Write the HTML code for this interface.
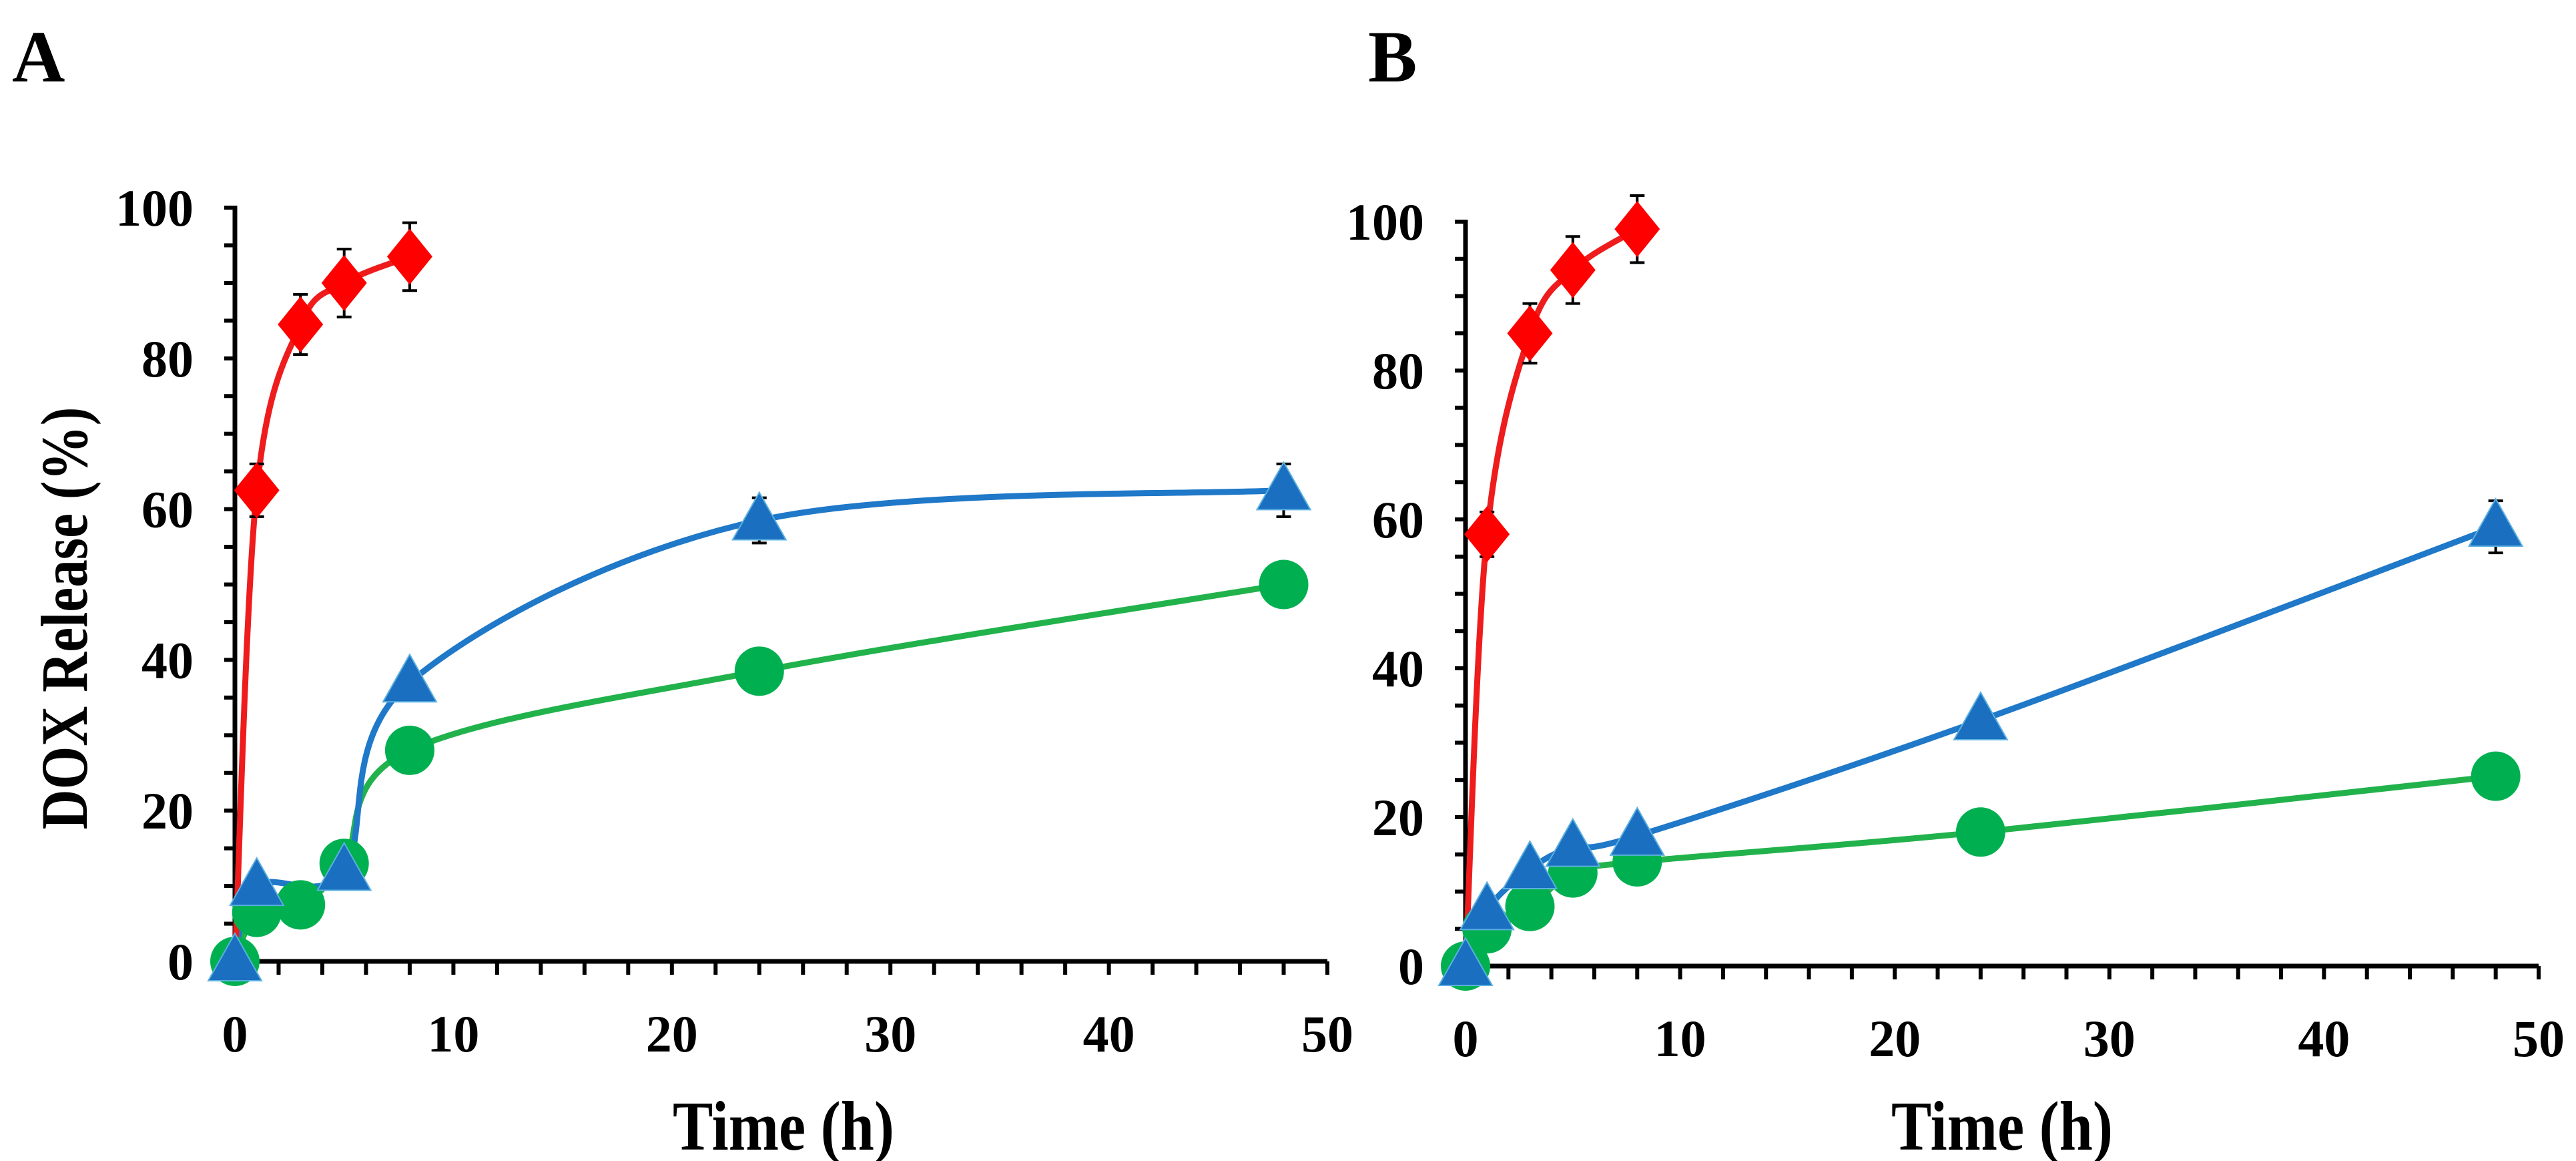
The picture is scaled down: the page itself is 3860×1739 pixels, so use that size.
<!DOCTYPE html>
<html><head><meta charset="utf-8"><style>
html,body{margin:0;padding:0;background:#fff;}
svg{display:block;}
text{font-family:"Liberation Serif",serif;font-weight:bold;fill:#000;}
</style></head><body>
<svg id="chart" width="3860" height="1739" viewBox="0 0 3860 1739" xmlns="http://www.w3.org/2000/svg">
<text x="18" y="122" font-size="110">A</text>
<text x="2050" y="122" font-size="110">B</text>
<text transform="translate(130,926) rotate(-90)" text-anchor="middle" font-size="100" textLength="633" lengthAdjust="spacingAndGlyphs">DOX Release (%)</text>
<g id="panelA"></g>
<g id="panelB"></g>
</svg>
<script>
const xTicks = [0,10,20,30,40,50];
const yTicks = [0,20,40,60,80,100];
const aRedX = [0,1,3,5,8];
const aRedY = [0,62.5,84.5,90,93.5];
const aRedErr = [0,3.5,4,4.5,4.5];
const aBlueX = [0,1,5,8,24,48];
const aBlueY = [0,10,12,37,58.5,62.5];
const aBlueErr = [0,0,0,0,3,3.5];
const aGreenX = [0,1,3,5,8,24,48];
const aGreenY = [0,6.5,7.5,13,28,38.5,50];
const bRedX = [0,1,3,5,8];
const bRedY = [0,58,85,93.5,99];
const bRedErr = [0,3,4,4.5,4.5];
const bBlueX = [0,1,3,5,8,24,48];
const bBlueY = [0,7.5,13,16,17.5,33,59];
const bBlueErr = [0,0,0,0,0,0,3.5];
const bGreenX = [0,1,3,5,8,24,48];
const bGreenY = [0,5,8,12.5,14,18,25.5];

const NS = "http://www.w3.org/2000/svg";
function mk(tag, attrs, parent){
  const e = document.createElementNS(NS, tag);
  for (const k in attrs) e.setAttribute(k, attrs[k]);
  parent.appendChild(e);
  return e;
}
function smoothPath(pts){
  let d = "M" + pts[0][0] + "," + pts[0][1];
  for (let i = 0; i < pts.length - 1; i++){
    const p0 = pts[Math.max(i-1,0)], p1 = pts[i], p2 = pts[i+1], p3 = pts[Math.min(i+2,pts.length-1)];
    const c1x = p1[0] + (p2[0]-p0[0])/6, c1y = p1[1] + (p2[1]-p0[1])/6;
    const c2x = p2[0] - (p3[0]-p1[0])/6, c2y = p2[1] - (p3[1]-p1[1])/6;
    d += " C" + c1x + "," + c1y + " " + c2x + "," + c2y + " " + p2[0] + "," + p2[1];
  }
  return d;
}
function drawPanel(g, ax, series){
  const sx = v => ax.x0 + (v/50)*(ax.x50 - ax.x0);
  const sy = v => ax.y0 - (v/100)*(ax.y0 - ax.y100);
  for (let v = 0; v <= 100; v += 5){
    const t = mk("line", {x1: ax.x0-16, x2: ax.x0, y1: sy(v), y2: sy(v), stroke:"#000", "stroke-width":6}, g);
    
    
  }
  for (let v = 2; v <= 50; v += 2){
    const t = mk("line", {x1: sx(v), x2: sx(v), y1: ax.y0, y2: ax.y0+20, stroke:"#000", "stroke-width":6}, g);
    
    
  }
  const ya = mk("line", {x1: ax.x0, x2: ax.x0, y1: ax.y100-3, y2: ax.y0+3, stroke:"#000", "stroke-width":7}, g);
  
  
  const xa = mk("line", {x1: ax.x0-3, x2: ax.x50, y1: ax.y0, y2: ax.y0, stroke:"#000", "stroke-width":7}, g);
  
  
  yTicks.forEach(v => {
    const t = mk("text", {x: ax.x0-62, y: sy(v)+27, "text-anchor":"end", "font-size":78}, g);
    t.textContent = v;
    
    
  });
  xTicks.forEach(v => {
    const t = mk("text", {x: sx(v), y: ax.y0+135, "text-anchor":"middle", "font-size":78}, g);
    t.textContent = v;
    
    
  });
  const xt = mk("text", {x: ax.titleX, y: 1722, "text-anchor":"middle", "font-size":105, textLength:332, lengthAdjust:"spacingAndGlyphs"}, g);
  xt.textContent = "Time (h)";
  
  

  series.forEach(s => {
    const pts = s.x.map((v,i) => [sx(v), sy(s.y[i])]);
    const p = mk("path", {d: smoothPath(pts), fill:"none", stroke:s.line, "stroke-width":9, "stroke-linejoin":"round"}, g);
    
    
  });
  series.forEach(s => {
    s.x.forEach((v,i) => {
      if (s.skipFirst && i === 0) return;
      const cx = sx(v), cy = sy(s.y[i]);
      if (s.err && s.err[i] > 0){
        const top = sy(s.y[i] + s.err[i]), bot = sy(s.y[i] - s.err[i]);
        const eb = mk("path", {d:`M${cx},${top}V${bot}M${cx-11},${top}H${cx+11}M${cx-11},${bot}H${cx+11}`, stroke:"#000", "stroke-width":4, fill:"none"}, g);
        
        
      }
      let m;
      if (s.shape === "circle"){
        m = mk("circle", {cx: cx, cy: cy, r: 37, fill: s.fill}, g);
      } else if (s.shape === "tri"){
        m = mk("path", {d:`M${cx},${cy-42} L${cx+40},${cy+29} L${cx-40},${cy+29} Z`, fill: s.fill, stroke:"#5bb0e0", "stroke-width":2}, g);
      } else {
        m = mk("path", {d:`M${cx},${cy-42} L${cx+34},${cy} L${cx},${cy+42} L${cx-34},${cy} Z`, fill: s.fill}, g);
      }
      
      
    });
  });
}
drawPanel(document.getElementById("panelA"), {x0:352, x50:1989, y0:1440, y100:311, titleX:1174}, [
  {name:"a-green", x:aGreenX, y:aGreenY, line:"#22b24c", fill:"#00b050", shape:"circle"},
  {name:"a-blue", x:aBlueX, y:aBlueY, err:aBlueErr, line:"#1f78c8", fill:"#1a6fc0", shape:"tri"},
  {name:"a-red", x:aRedX, y:aRedY, err:aRedErr, line:"#ee1c1c", fill:"#ff0000", shape:"diamond", skipFirst:true}
]);
drawPanel(document.getElementById("panelB"), {x0:2196, x50:3804, y0:1447, y100:332, titleX:3000}, [
  {name:"b-green", x:bGreenX, y:bGreenY, line:"#22b24c", fill:"#00b050", shape:"circle"},
  {name:"b-blue", x:bBlueX, y:bBlueY, err:bBlueErr, line:"#1f78c8", fill:"#1a6fc0", shape:"tri"},
  {name:"b-red", x:bRedX, y:bRedY, err:bRedErr, line:"#ee1c1c", fill:"#ff0000", shape:"diamond", skipFirst:true}
]);
</script>
</body></html>
